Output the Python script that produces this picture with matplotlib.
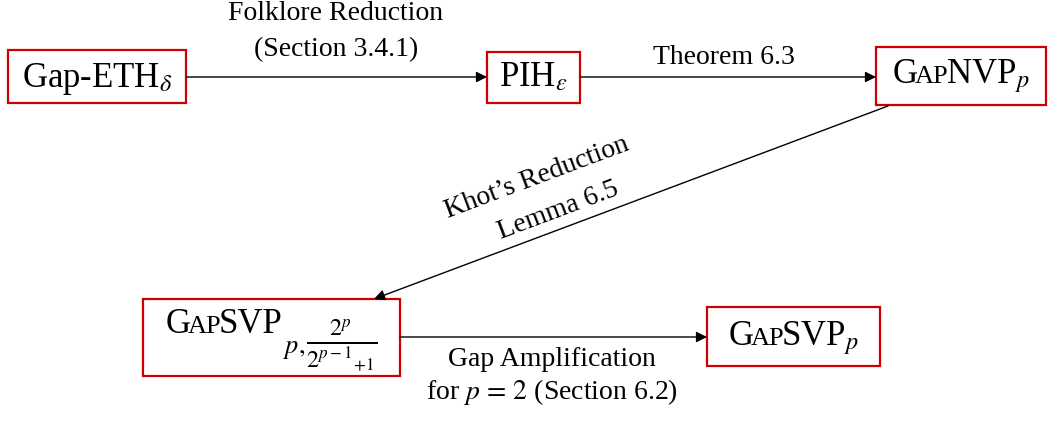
import numpy as np
import matplotlib
matplotlib.use("Agg")
import matplotlib.pyplot as plt
from matplotlib.patches import Rectangle

plt.rcParams['font.family'] = ['Liberation Serif', 'DejaVu Serif']
plt.rcParams['mathtext.fontset'] = 'stix'

big, small, lab = 25, 19, 20

# node labels: list of (text, fontsize, baseline shift, spacing after) pieces
node_names = ["eth", "pih", "nvp", "svp_frac", "svp_p"]
node_pieces = [
    [("Gap-ETH$_{\\delta}$", big, 0, 0)],
    [("PIH$_{\\varepsilon}$", big, 0, 0)],
    [("G", big, 0, -3), ("AP", small, 0, -3), ("NVP$_{p}$", big, 0, 0)],
    [("G", big, 0, -3), ("AP", small, 0, -3), ("SVP", big, 0, 0),
     ("$p,$", 19, 20, 1), ("$\\frac{2^p}{2^{p-1}{}_{+1}}$", 25, 16, 0)],
    [("G", big, 0, -3), ("AP", small, 0, -3), ("SVP$_{p}$", big, 0, 0)],
]
# edges: (from, to, label lines)
edges = [
    ("eth", "pih", ["Folklore Reduction", "(Section 3.4.1)"]),
    ("pih", "nvp", ["Theorem 6.3"]),
    ("nvp", "svp_frac", ["Khot\u2019s Reduction", "Lemma 6.5"]),
    ("svp_frac", "svp_p", ["Gap Amplification", "for $p\\,=\\,2$ (Section 6.2)"]),
]

# layout (pixel coordinates, y down)
boxes = {
    "eth": (8, 50, 186, 103),
    "pih": (487, 52, 580, 103),
    "nvp": (876, 47, 1046, 105),
    "svp_frac": (143, 299, 400, 376),
    "svp_p": (707, 307, 880, 366),
}
baselines = {"eth": 87, "pih": 86, "nvp": 83, "svp_frac": 333, "svp_p": 345}
arrow_pts = {
    ("eth", "pih"): ((186, 77), (487, 77)),
    ("pih", "nvp"): ((580, 77), (876, 77)),
    ("nvp", "svp_frac"): ((888, 106), (374, 299)),
    ("svp_frac", "svp_p"): ((400, 337), (707, 337)),
}
label_pos = {
    ("eth", "pih"): [(336, 14), (336, 50)],
    ("pih", "nvp"): [(724, 57)],
    ("nvp", "svp_frac"): [(537, 178), (558, 211)],
    ("svp_frac", "svp_p"): [(552, 360), (552, 392)],
}

red = "#cc0000"

fig = plt.figure(figsize=(10.5, 4.23), dpi=100)
ax = fig.add_axes([0, 0, 1, 1])
ax.set_xlim(0, 1050)
ax.set_ylim(423, 0)
ax.axis("off")
renderer = fig.canvas.get_renderer()

for name, pieces in zip(node_names, node_pieces):
    x0, y0, x1, y1 = boxes[name]
    ax.add_patch(Rectangle((x0, y0), x1 - x0, y1 - y0, fill=False,
                           edgecolor=red, lw=1.6, zorder=3))
    base = baselines[name]
    texts = [ax.text(0, base + dy, t, fontsize=fs, ha="left", va="baseline")
             for t, fs, dy, _ in pieces]
    widths = [t.get_window_extent(renderer).width + p[3]
              for t, p in zip(texts, pieces)]
    x = (x0 + x1) / 2 - sum(widths) / 2
    for t, w in zip(texts, widths):
        t.set_x(x)
        x += w

for a, b, lines in edges:
    (sx, sy), (ex, ey) = arrow_pts[(a, b)]
    ax.annotate("", xy=(ex, ey), xytext=(sx, sy),
                arrowprops=dict(arrowstyle="-|>", color="black", lw=1,
                                mutation_scale=16, shrinkA=0, shrinkB=0))
    ang = 0
    if sx > ex:
        ang = np.degrees(np.arctan2(ey - sy, sx - ex))
    for txt, (lx, ly) in zip(lines, label_pos[(a, b)]):
        ax.text(lx, ly, txt, fontsize=lab, ha="center", va="center",
                rotation=ang, rotation_mode="anchor")

fig.savefig("out.png", dpi=100)
